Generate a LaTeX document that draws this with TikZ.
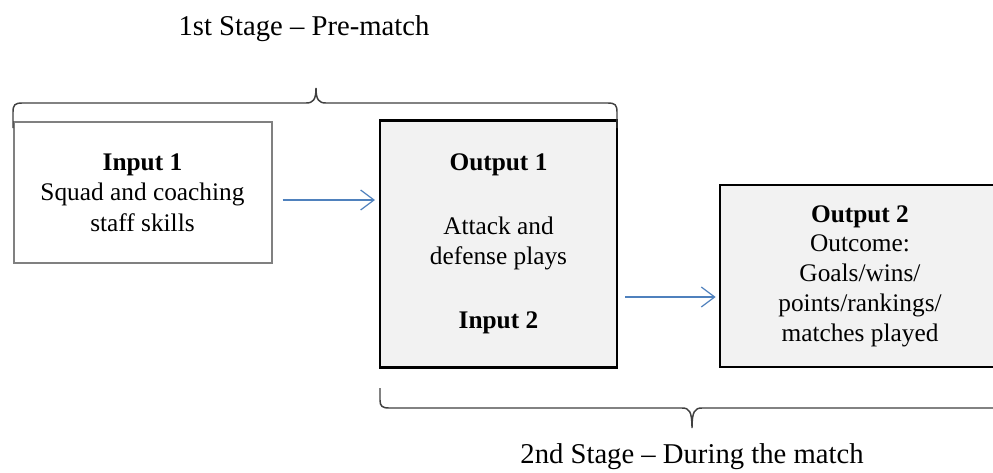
\documentclass[tikz,border=0pt]{standalone}
\usepackage{fontspec}
\setmainfont{Liberation Serif}
\usetikzlibrary{arrows.meta}
\definecolor{flowblue}{HTML}{4F81BD}
\definecolor{boxfill}{HTML}{F2F2F2}
\definecolor{bracegray}{HTML}{404040}
\definecolor{lightborder}{HTML}{808080}
\tikzset{
  x=0.75pt, y=-0.75pt,
  txt/.style={font=\fontsize{19}{22.8}\selectfont, align=center, inner sep=0pt},
  lightbox/.style={draw=lightborder, line width=1.5pt, fill=white, rectangle, minimum width=193.5pt, minimum height=105.75pt, txt},
  darkbox/.style={draw=black, line width=1.6pt, fill=boxfill, rectangle, txt},
  flow/.style={draw=flowblue, line width=0.9pt, -{Straight Barb[length=10pt,width=15pt,line width=0.9pt]}},
  bracepath/.style={draw=bracegray, line width=1.1pt},
  stagetxt/.style={font=\fontsize{21.5}{25}\selectfont, inner sep=0pt}
}
\begin{document}
\begin{tikzpicture}
\clip (0,0) rectangle (993,472);
\fill[white] (0,0) rectangle (993,472);
% boxes
\node[lightbox] (in1) at (142.5,192.5) {\textbf{Input 1}\\Squad and coaching\\staff skills};
\node[darkbox, minimum width=177.75pt, minimum height=185.25pt] (out1) at (498.5,244)
  {\textbf{Output 1}\\[25pt]Attack and\\defense plays\\[25pt]\textbf{Input 2}};
\node[darkbox, minimum width=210pt, minimum height=136.5pt, font=\fontsize{19}{22.3}\selectfont] (out2) at (860,276)
  {\textbf{Output 2}\\Outcome:\\Goals/wins/\\points/rankings/\\matches played};
% arrows
\draw[flow] ([xshift=7.5pt]in1.east |- 0,200) -- ([xshift=-3pt]out1.west |- 0,200);
\draw[flow] ([xshift=5.5pt]out1.east |- 0,297) -- ([xshift=-2.5pt]out2.west |- 0,297);
% braces
\draw[bracepath] (13,128) -- (13,112) .. controls (13,105) and (15,103) .. (22,103)
  -- (306,103) .. controls (313,103) and (316,100) .. (316,88)
  .. controls (316,100) and (319,103) .. (326,103)
  -- (608,103) .. controls (615,103) and (617,105) .. (617,112) -- (617,128);
\draw[bracepath] (380,388) -- (380,400) .. controls (380,406) and (382,408) .. (389,408)
  -- (682,408) .. controls (689,408) and (692,411) .. (692,428)
  .. controls (692,411) and (695,408) .. (702,408)
  -- (995,408) .. controls (1002,408) and (1004,406) .. (1004,400) -- (1004,388);
\node[stagetxt] (st1) at (304,29) {1st Stage – Pre-match};
\node[stagetxt] (st2) at (692,457) {2nd Stage – During the match};
\end{tikzpicture}
\end{document}
